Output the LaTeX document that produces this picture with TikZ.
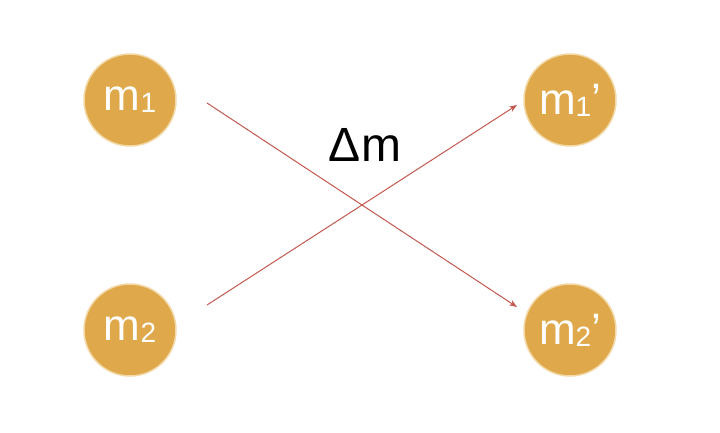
\documentclass[tikz,border=0pt]{standalone}
\usepackage{fontspec}
\setmainfont{Liberation Sans}
\usetikzlibrary{arrows.meta}
\definecolor{ball}{HTML}{DFA84A}
\definecolor{glow}{HTML}{F3D9A8}
\definecolor{arr}{HTML}{C2574F}
\begin{document}
\begin{tikzpicture}[x=1pt,y=-1pt,
  ball/.style={circle,fill=ball,draw=glow,line width=1.5pt,minimum size=92pt,inner sep=0pt,text=white,font=\fontsize{44}{44}\selectfont},
  conn/.style={draw=arr,line width=1pt,-{Stealth[length=8pt,width=6pt]}}]
\useasboundingbox (0,0) rectangle (720,432);
\node[ball] (a) at (130,100) {m\raisebox{-2pt}{\fontsize{28}{28}\selectfont 1}};
\node[ball] (b) at (130,330) {m\raisebox{-2pt}{\fontsize{28}{28}\selectfont 2}};
\node[ball] (c) at (570,100) {m\raisebox{-2pt}{\fontsize{28}{28}\selectfont 1}’};
\node[ball] (d) at (570,330) {m\raisebox{-2pt}{\fontsize{28}{28}\selectfont 2}’};
\coordinate (a1) at (207,103); \coordinate (d1) at (517,307);
\coordinate (b1) at (207,305); \coordinate (c1) at (517,105);
\draw[conn] (a1) -- (d1);
\draw[conn] (b1) -- (c1);
\node[font=\fontsize{48}{48}\selectfont] (dm) at (365,145) {Δm};
\end{tikzpicture}
\end{document}
